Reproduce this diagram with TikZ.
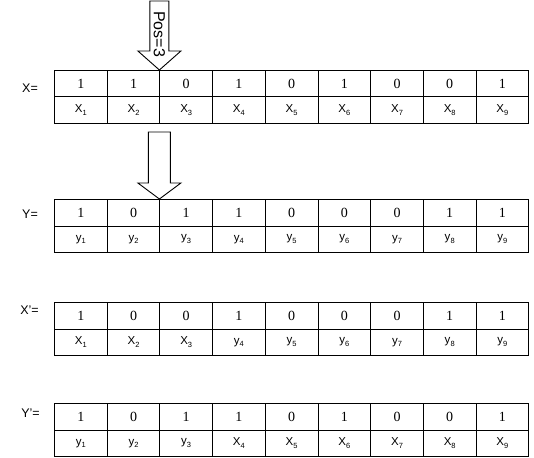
\documentclass[tikz,border=0pt]{standalone}
\usepackage{fontspec}
\setmainfont{Liberation Sans}
\newfontfamily\valfont{Liberation Serif}
\newcommand\subn[1]{\raisebox{-0.4ex}{\fontsize{7.5}{7.5}\selectfont #1}}
\begin{document}
\begin{tikzpicture}[x=1pt,y=-1pt,
  cell/.style={draw,line width=0.9pt,minimum width=52.7pt,minimum height=26.5pt,inner sep=0pt,anchor=north west},
  valcell/.style={cell,font=\valfont\fontsize{14}{14}\selectfont},
  labcell/.style={cell,font=\fontsize{11.5}{11.5}\selectfont},
  rowlab/.style={anchor=east,font=\fontsize{12.5}{12.5}\selectfont,inner sep=0pt},
  barrow/.style={draw,line width=0.9pt,fill=white,line join=miter}]
\useasboundingbox (0,0) rectangle (534,457);
\def\L{54}
\def\W{52.7}
% X row
\foreach \v [count=\i] in {1,1,0,1,0,1,0,0,1}
  \node[valcell] (xa\i) at ({\L+(\i-1)*\W},70) {\v};
\foreach \t [count=\i] in {X\subn{1},X\subn{2},X\subn{3},X\subn{4},X\subn{5},X\subn{6},X\subn{7},X\subn{8},X\subn{9}}
  \node[labcell] (xb\i) at ({\L+(\i-1)*\W},96.5) {\t};
\node[rowlab] (xl) at (38,88) {X=};
% Y row
\foreach \v [count=\i] in {1,0,1,1,0,0,0,1,1}
  \node[valcell] (ya\i) at ({\L+(\i-1)*\W},199) {\v};
\foreach \t [count=\i] in {y\subn{1},y\subn{2},y\subn{3},y\subn{4},y\subn{5},y\subn{6},y\subn{7},y\subn{8},y\subn{9}}
  \node[labcell] (yb\i) at ({\L+(\i-1)*\W},225.5) {\t};
\node[rowlab] (yl) at (38,214) {Y=};
% X' row
\foreach \v [count=\i] in {1,0,0,1,0,0,0,1,1}
  \node[valcell] (pa\i) at ({\L+(\i-1)*\W},302) {\v};
\foreach \t [count=\i] in {X\subn{1},X\subn{2},X\subn{3},y\subn{4},y\subn{5},y\subn{6},y\subn{7},y\subn{8},y\subn{9}}
  \node[labcell] (pb\i) at ({\L+(\i-1)*\W},328.5) {\t};
\node[rowlab] (pl) at (39,310) {X'=};
% Y' row
\foreach \v [count=\i] in {1,0,1,1,0,1,0,0,1}
  \node[valcell] (qa\i) at ({\L+(\i-1)*\W},403) {\v};
\foreach \t [count=\i] in {y\subn{1},y\subn{2},y\subn{3},X\subn{4},X\subn{5},X\subn{6},X\subn{7},X\subn{8},X\subn{9}}
  \node[labcell] (qb\i) at ({\L+(\i-1)*\W},429.5) {\t};
\node[rowlab] (ql) at (40,413) {Y'=};
% arrow 1 (Pos=3)
\coordinate (t1) at (xa3.north west);
\draw[barrow] ([xshift=-9.5pt]t1 |- 0,1) -- ([xshift=-9.5pt]t1 |- 0,51) -- ([xshift=-21.5pt]t1 |- 0,51)
  -- (t1) -- ([xshift=21.5pt]t1 |- 0,51) -- ([xshift=9.5pt]t1 |- 0,51) -- ([xshift=9.5pt]t1 |- 0,1) -- cycle;
\node[rotate=-90,font=\fontsize{16}{16}\selectfont,inner sep=0pt] (pos) at ([yshift=36pt]t1) {Pos=3};
% arrow 2
\coordinate (t2) at (ya3.north west);
\draw[barrow] ([xshift=-11pt]t2 |- 0,132) -- ([xshift=-11pt]t2 |- 0,183) -- ([xshift=-21.5pt]t2 |- 0,183)
  -- (t2) -- ([xshift=21.5pt]t2 |- 0,183) -- ([xshift=11pt]t2 |- 0,183) -- ([xshift=11pt]t2 |- 0,132) -- cycle;
\end{tikzpicture}
\end{document}
